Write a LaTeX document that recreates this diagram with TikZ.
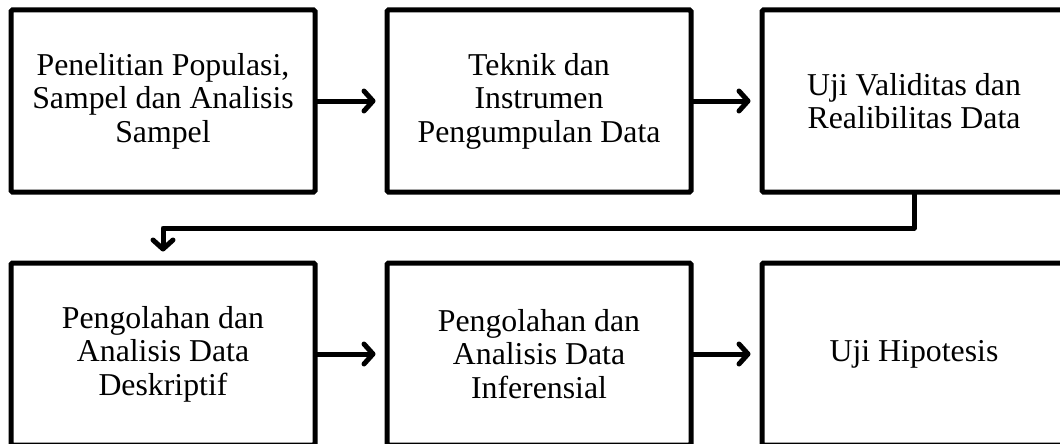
\documentclass[tikz,border=0pt]{standalone}
\usepackage{fontspec}
\setmainfont{Liberation Serif}
\usetikzlibrary{arrows.meta}
\begin{document}
\begin{tikzpicture}[x=1pt,y=-1pt,
  box/.style={draw=black, line width=5pt, rounded corners=1.5pt, minimum width=304pt, minimum height=182pt, inner sep=0pt, align=center, font=\fontsize{31.8}{33.5}\selectfont, fill=white},
  conn/.style={line width=5pt, line cap=round, line join=round, -{Straight Barb[length=9pt,width=20pt,line cap=round,line join=round]}, shorten >=9pt}]
\useasboundingbox (0,0) rectangle (1060,444);
\fill[white] (0,0) rectangle (1060,444);
\clip (0,0) rectangle (1060,444);
\node[box] (b1) at (163,101) {Penelitian Populasi,\\Sampel dan Analisis\\Sampel};
\node[box] (b2) at (539,101) {Teknik dan\\Instrumen\\Pengumpulan Data};
\node[box] (b3) at (914,101) {Uji Validitas dan\\Realibilitas Data};
\node[box] (b4) at (163,354) {Pengolahan dan\\Analisis Data\\Deskriptif};
\node[box] (b5) at (539,354) {Pengolahan dan\\Analisis Data\\Inferensial};
\node[box] (b6) at (914,354) {Uji Hipotesis};
\coordinate (bend) at (914,228);
\draw[conn] (b1.east) -- (b2.west);
\draw[conn] (b2.east) -- (b3.west);
\draw[conn] (b4.east) -- (b5.west);
\draw[conn] (b5.east) -- (b6.west);
\draw[conn] (b3.south) -- (bend) -| (b4.north);
\end{tikzpicture}
\end{document}
